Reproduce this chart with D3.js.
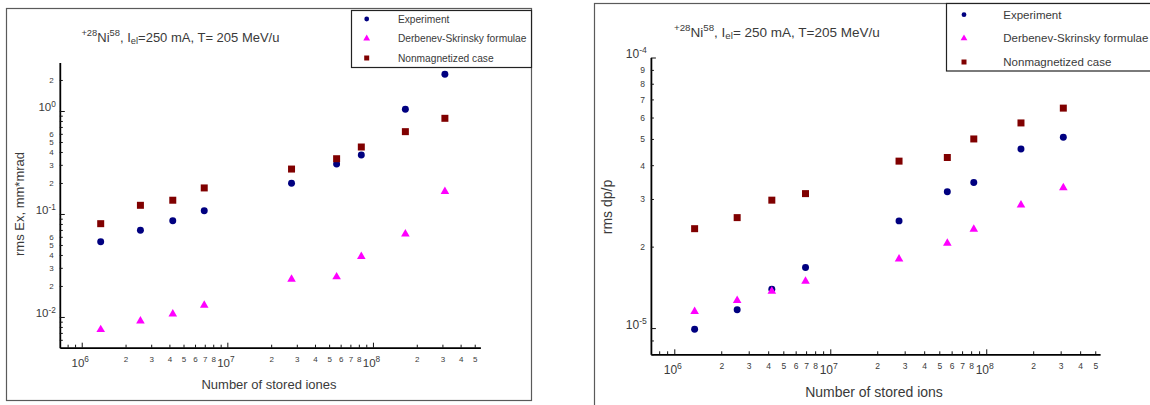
<!DOCTYPE html>
<html>
<head>
<meta charset="utf-8">
<script src="https://cdn.jsdelivr.net/npm/d3@7"></script>
<style>
  html, body { margin: 0; padding: 0; background: #fff; }
  svg text { font-family: "Liberation Sans", Arial, Helvetica, sans-serif; fill: #3a3a3a; }
</style>
</head>
<body>
<svg id="chart" width="1150" height="405"></svg>
<script>
// Number of stored ions (shared by both panels)
const ions = [1.35e6, 2.53e6, 4.22e6, 6.94e6, 2.76e7, 5.63e7, 8.32e7, 1.67e8, 3.12e8];

// rms horizontal emittance, mm*mrad
const emitExperiment = [0.0538, 0.0695, 0.0861, 0.1077, 0.199, 0.306, 0.374, 1.04, 2.27];
const emitDerbenev   = [0.00754, 0.00915, 0.0107, 0.0130, 0.0232, 0.0245, 0.0386, 0.0640, 0.165];
const emitNonmag     = [0.0805, 0.1214, 0.136, 0.179, 0.273, 0.344, 0.447, 0.630, 0.849];

// rms momentum spread dp/p
const dppExperiment = [0.99e-5, 1.168e-5, 1.393e-5, 1.674e-5, 2.49e-5, 3.19e-5, 3.45e-5, 4.59e-5, 5.07e-5];
const dppDerbenev   = [1.152e-5, 1.264e-5, 1.369e-5, 1.49e-5, 1.80e-5, 2.06e-5, 2.32e-5, 2.85e-5, 3.30e-5];
const dppNonmag     = [2.33e-5, 2.56e-5, 2.97e-5, 3.14e-5, 4.14e-5, 4.27e-5, 5.0e-5, 5.73e-5, 6.50e-5];

const seriesNames  = ["Experiment", "Derbenev-Skrinsky formulae", "Nonmagnetized case"];
const seriesColors = ["#000080", "#ff00ff", "#800000"];

// Mantissas that carry a printed label on each log axis
const xLabelMantissas    = [1, 2, 3, 4, 5, 6, 7, 8];
const emitLabelMantissas = [1, 2, 3, 4, 5, 6];
const dppLabelMantissas  = [1, 2, 3, 4, 5, 6, 7, 8, 9];

const svg = d3.select("#chart");

// all 1..9 ticks inside the domain; labels only from the first full decade on
function logTicks(domain, labelled) {
  const out = [];
  const e0 = Math.floor(Math.log10(domain[0])), e1 = Math.ceil(Math.log10(domain[1]));
  const firstDecade = Math.ceil(Math.log10(domain[0]) - 1e-9);
  for (let e = e0; e <= e1; e++) {
    for (let m = 1; m <= 9; m++) {
      const v = m * Math.pow(10, e);
      if (v >= domain[0] * 0.999 && v <= domain[1] * 1.001)
        out.push({ v, m, e, label: labelled.includes(m) && e >= firstDecade });
    }
  }
  return out;
}

// text with super/subscript pieces
function rich(textSel, parts, size) {
  let shift = 0;
  parts.forEach(p => {
    const off = p.sup ? -size * 0.42 : p.sub ? size * 0.22 : 0;
    textSel.append("tspan")
      .attr("dy", off - shift)
      .attr("font-size", (p.sup || p.sub) ? size * 0.72 : size)
      .text(p.t);
    shift = off;
  });
}

function symbolFor(k, s) {
  const types = [d3.symbolCircle, d3.symbolTriangle, d3.symbolSquare];
  return d3.symbol().type(types[k]).size(s[k])();
}

function drawPanel(cfg) {
  const g = svg.append("g");

  // outer frame
  g.append("rect")
    .attr("x", cfg.frame[0]).attr("y", cfg.frame[1])
    .attr("width", cfg.frame[2]).attr("height", cfg.frame[3])
    .attr("fill", "none").attr("stroke", "#5a5a5a").attr("stroke-width", 1.2);

  const x = d3.scaleLog().domain(cfg.xDomain).range(cfg.xRange);
  const y = d3.scaleLog().domain(cfg.yDomain).range(cfg.yRange);

  // title
  const title = g.append("text").attr("x", cfg.title[0]).attr("y", cfg.title[1]).attr("fill", "#444");
  rich(title, cfg.titleParts, cfg.titleSize);

  // x axis
  const xt = logTicks(cfg.xDomain, xLabelMantissas);
  const gx = g.append("g")
    .attr("transform", `translate(0,${cfg.yRange[0]})`)
    .call(d3.axisBottom(x).tickValues(xt.map(d => d.v)).tickSizeInner(-3).tickSizeOuter(0).tickFormat(() => ""));
  gx.attr("font-family", null).attr("font-size", null);
  gx.select(".domain").attr("stroke", "#000").attr("stroke-width", 1.8);
  gx.selectAll(".tick line").attr("stroke", "#111").attr("stroke-width", 1);
  gx.selectAll(".tick").each(function (d, i) {
    const t = xt[i];
    const s = d3.select(this);
    const txt = s.select("text").attr("dy", null).attr("fill", "#333");
    if (t.m === 1) {
      s.select("line").attr("y2", -5);
      txt.attr("y", cfg.xMajorBase).attr("dx", -2);
      rich(txt, [{ t: "10" }, { t: String(t.e), sup: true }], cfg.majorSize);
    } else if (t.label) {
      txt.attr("y", cfg.xMinorBase).attr("font-size", cfg.minorSize).text(t.m);
    }
  });

  // y axis
  const yt = logTicks(cfg.yDomain, cfg.yLabelMantissas);
  const gy = g.append("g")
    .attr("transform", `translate(${cfg.xRange[0]},0)`)
    .call(d3.axisLeft(y).tickValues(yt.map(d => d.v)).tickSizeInner(-3).tickSizeOuter(0).tickPadding(6).tickFormat(() => ""));
  gy.attr("font-family", null).attr("font-size", null);
  gy.select(".domain").attr("stroke", "#000").attr("stroke-width", 1.8);
  gy.selectAll(".tick line").attr("stroke", "#111").attr("stroke-width", 1);
  gy.selectAll(".tick").each(function (d, i) {
    const t = yt[i];
    const s = d3.select(this);
    const txt = s.select("text").attr("fill", "#333").attr("dy", "0.35em");
    if (t.m === 1) {
      s.select("line").attr("x2", 5);
      txt.attr("x", -4);
      rich(txt, [{ t: "10" }, { t: String(t.e), sup: true }], cfg.majorSize);
    } else if (t.label) {
      txt.attr("font-size", cfg.minorSize).text(t.m);
    }
  });

  // axis titles
  g.append("text")
    .attr("transform", `translate(${cfg.yLabel[0]},${cfg.yLabel[1]}) rotate(-90)`)
    .attr("text-anchor", "middle").attr("font-size", cfg.labelSize).attr("fill", "#444")
    .text(cfg.yTitle);
  g.append("text")
    .attr("x", cfg.xLabel[0]).attr("y", cfg.xLabel[1])
    .attr("text-anchor", "middle").attr("font-size", cfg.labelSize).attr("fill", "#444")
    .text(cfg.xTitle);

  // data markers
  cfg.series.forEach((vals, k) => {
    g.append("g").selectAll("path")
      .data(ions.map((n, i) => ({ n, v: vals[i] })))
      .join("path")
      .attr("transform", d => `translate(${x(d.n)},${y(d.v)})`)
      .attr("d", symbolFor(k, [38, 32, 49]))
      .attr("fill", seriesColors[k]);
  });

  // legend
  const L = cfg.legend;
  g.append("rect")
    .attr("x", L.box[0]).attr("y", L.box[1]).attr("width", L.box[2]).attr("height", L.box[3])
    .attr("fill", "#fff").attr("stroke", "#222").attr("stroke-width", 1.2);
  const items = g.append("g").selectAll("g").data(seriesNames).join("g")
    .attr("transform", (d, i) => `translate(0,${L.rows[i]})`);
  items.append("path")
    .attr("transform", `translate(${L.markerX},0)`)
    .attr("d", (d, i) => symbolFor(i, [18, 20, 25]))
    .attr("fill", (d, i) => seriesColors[i]);
  items.append("text")
    .attr("x", L.textX).attr("dy", "0.35em")
    .attr("font-size", L.size).attr("fill", "#444")
    .text(d => d);
}

drawPanel({
  frame: [6.5, 8.5, 525, 392],
  xDomain: [7.07e5, 5.47e8], xRange: [59.8, 480.4],
  yDomain: [5.03e-3, 2.95], yRange: [347.7, 62.6],
  yLabelMantissas: emitLabelMantissas,
  title: [81.4, 41.5], titleSize: 13,
  titleParts: [{ t: "+28", sup: true }, { t: "Ni" }, { t: "58", sup: true }, { t: ", I" }, { t: "el", sub: true }, { t: "=250 mA, T= 205 MeV/u" }],
  xMajorBase: 19, xMinorBase: 14.5, majorSize: 11.5, minorSize: 8,
  yTitle: "rms Ex, mm*mrad", yLabel: [24, 204],
  xTitle: "Number of stored iones", xLabel: [269, 389],
  labelSize: 13,
  series: [emitExperiment, emitDerbenev, emitNonmag],
  legend: { box: [351.5, 10.5, 180, 57], rows: [19, 38.5, 58], markerX: 366.7, textX: 397.9, size: 10.2 }
});

drawPanel({
  frame: [594.5, 3.5, 600, 450],
  xDomain: [7.08e5, 5.37e8], xRange: [650.9, 1100.1],
  yDomain: [8.0e-6, 1e-4], yRange: [354.3, 57.5],
  yLabelMantissas: dppLabelMantissas,
  title: [674, 36.5], titleSize: 13.5,
  titleParts: [{ t: "+28", sup: true }, { t: "Ni" }, { t: "58", sup: true }, { t: ", I" }, { t: "el", sub: true }, { t: "= 250 mA, T=205 MeV/u" }],
  xMajorBase: 19.5, xMinorBase: 15, majorSize: 12, minorSize: 8.5,
  yTitle: "rms dp/p", yLabel: [612, 207],
  xTitle: "Number of stored ions", xLabel: [874, 396.5],
  labelSize: 14,
  series: [dppExperiment, dppDerbenev, dppNonmag],
  legend: { box: [946.5, 3.5, 260, 67.5], rows: [14.7, 38.3, 62], markerX: 964, textX: 1003.3, size: 11.5 }
});
</script>
</body>
</html>
